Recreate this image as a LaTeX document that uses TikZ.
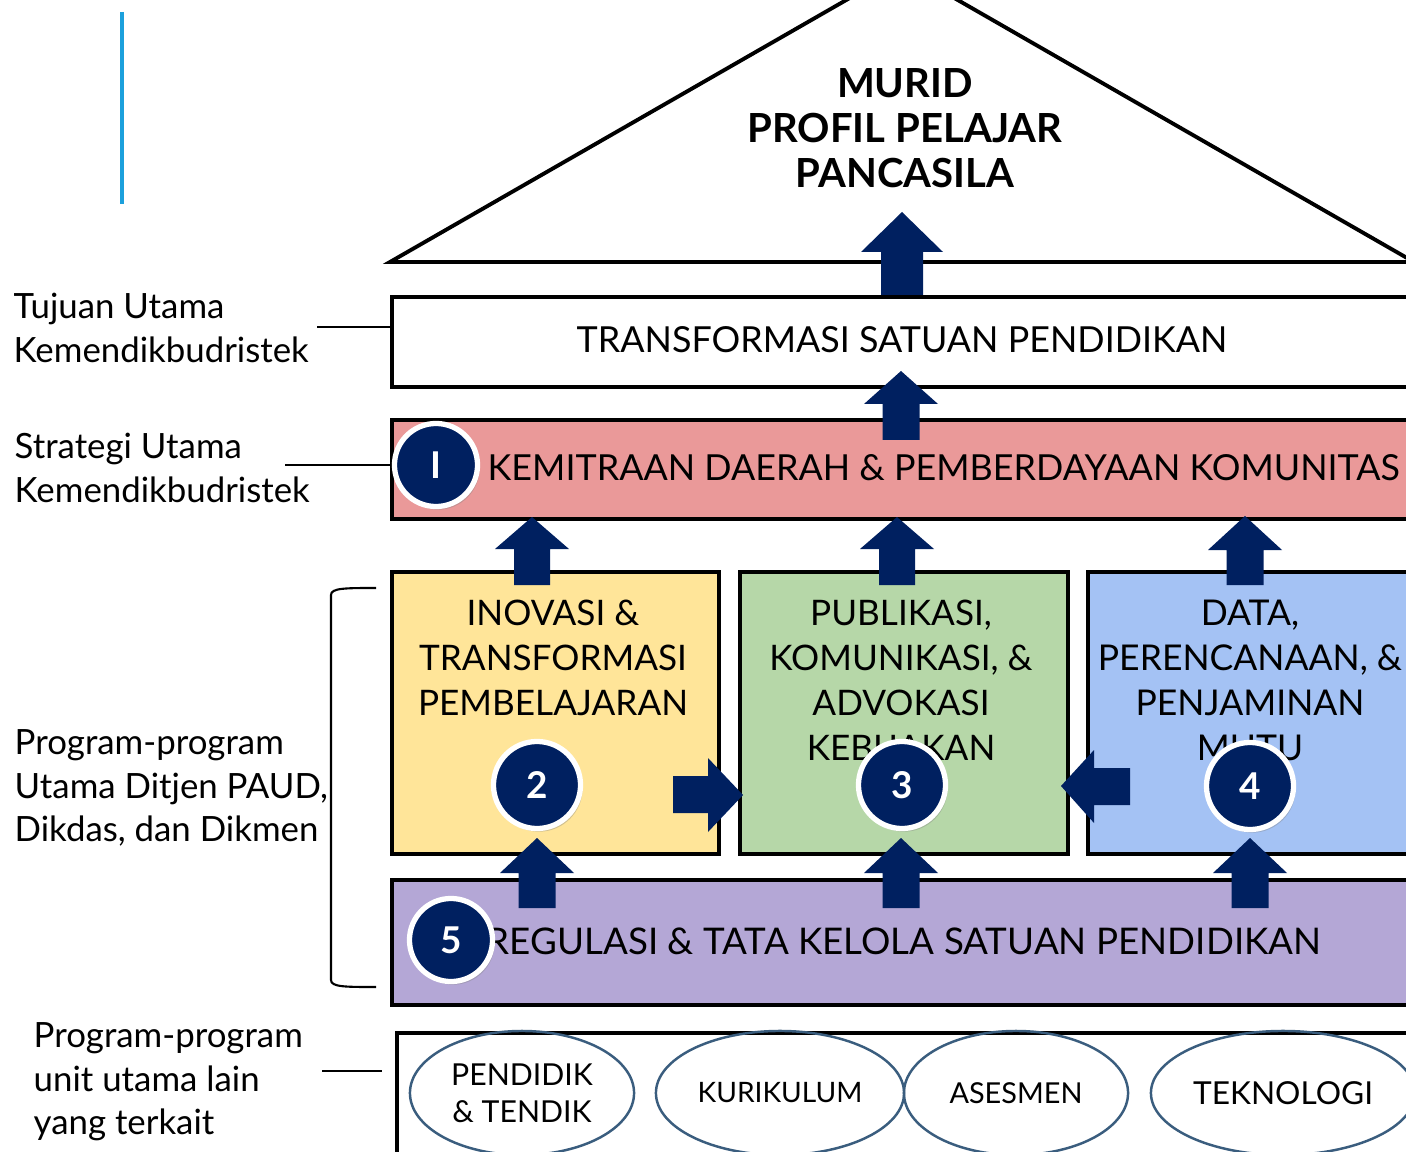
\documentclass[tikz,border=0pt]{standalone}
\usepackage{fontspec}
\setmainfont{Lato}
\usetikzlibrary{shapes.geometric,shadows}
\definecolor{navy}{HTML}{002060}
\definecolor{pinkc}{HTML}{EA9999}
\definecolor{yellowc}{HTML}{FFE599}
\definecolor{greenc}{HTML}{B6D7A8}
\definecolor{bluec}{HTML}{A4C2F4}
\definecolor{purplec}{HTML}{B4A7D6}
\definecolor{ellc}{HTML}{3A5D7E}
\definecolor{cyanc}{HTML}{1CA0DC}
\newcommand{\bup}[6]{\fill[navy] (#1-#6,#4) -- (#1-#6,#3) -- (#1-#5,#3) -- (#1,#2) -- (#1+#5,#3) -- (#1+#6,#3) -- (#1+#6,#4) -- cycle;}
\begin{document}
\begin{tikzpicture}[x=0.01cm,y=-0.01cm,
  boxstyle/.style={draw=black,line width=1pt,inner sep=0pt,anchor=north west},
  boxtext/.style={font=\fontsize{#1}{12.8}\selectfont,align=center,inner sep=0pt},
  boxtext/.default=10.2,
  sidetext/.style={font=\fontsize{9.9}{12.4}\selectfont,align=left,inner sep=0pt,anchor=west},
  sideline/.style={line width=0.5pt},
  numc/.style={circle,fill=navy,draw=white,line width=1.5pt,inner sep=0pt,text=white,font=\fontsize{10.5}{12}\selectfont\bfseries,drop shadow={shadow xshift=0.6pt,shadow yshift=-0.9pt,opacity=0.35}},
  ellnode/.style={ellipse,draw=ellc,line width=0.7pt,inner sep=0pt,align=center,font=\fontsize{#1}{10.6}\selectfont},
  ellnode/.default=8.4]
\useasboundingbox (0,0) rectangle (1406,1152);
\clip (0,0) rectangle (1406,1152);
\fill[white] (0,0) rectangle (1406,1152);

% cyan accent line
\draw[cyanc,line width=0.9pt] (122,12) -- (122,204);

% roof
\draw[line width=1.1pt,line join=miter] (390,262) -- (902,-32) -- (1414,262) -- cycle;
\node[font=\fontsize{11.4}{12.8}\selectfont\bfseries,align=center,inner sep=0pt] (murid) at (905,128) {MURID\\PROFIL PELAJAR\\PANCASILA};

% main boxes
\node[boxstyle,fill=white,minimum width=10.30cm,minimum height=0.90cm] (tsp) at (390,295) {};
\node[boxtext] (tsptext) at (902,340) {TRANSFORMASI SATUAN PENDIDIKAN};

\node[boxstyle,fill=pinkc,minimum width=10.30cm,minimum height=0.99cm] (kem) at (390,418) {};
\node[boxtext=10.2,anchor=west] (kemtext) at (487,468) {KEMITRAAN DAERAH \& PEMBERDAYAAN KOMUNITAS};

\node[boxstyle,fill=yellowc,minimum width=3.27cm,minimum height=2.82cm] (ino) at (390,570) {};
\node[boxtext=10] (inotext) at (553,658) {INOVASI \&\\TRANSFORMASI\\PEMBELAJARAN};

\node[boxstyle,fill=greenc,minimum width=3.28cm,minimum height=2.82cm] (pub) at (738,570) {};
\node[boxtext=10] (pubtext) at (901,680) {PUBLIKASI,\\KOMUNIKASI, \&\\ADVOKASI\\KEBIJAKAN};

\node[boxstyle,fill=bluec,minimum width=3.30cm,minimum height=2.82cm] (dat) at (1086,570) {};
\node[boxtext=10.1] (dattext) at (1250,680) {DATA,\\PERENCANAAN, \&\\PENJAMINAN\\MUTU};

\node[boxstyle,fill=purplec,minimum width=10.30cm,minimum height=1.25cm] (reg) at (390,878) {};
\node[boxtext=10.45] (regtext) at (904,941) {REGULASI \& TATA KELOLA SATUAN PENDIDIKAN};

\node[boxstyle,fill=white,minimum width=10.30cm,minimum height=1.40cm] (unit) at (395,1031) {};

% ellipses
\node[ellnode=8.6,minimum width=2.24cm,minimum height=1.24cm] (e1) at (522,1093) {PENDIDIK\\\& TENDIK};
\node[ellnode=8.0,minimum width=2.48cm,minimum height=1.24cm] (e2) at (780,1093) {KURIKULUM};
\node[ellnode=8.2,minimum width=2.24cm,minimum height=1.24cm] (e3) at (1016,1093) {ASESMEN};
\node[ellnode=9.0,minimum width=2.64cm,minimum height=1.24cm] (e4) at (1283,1093) {TEKNOLOGI};

% block arrows up
\bup{902}{212}{252}{295}{41}{21}
\bup{901}{371}{404}{440}{37}{18.5}
\bup{532}{517}{549}{585}{37}{18}
\bup{897}{517}{549}{585}{37}{18}
\bup{1245}{516}{550}{585}{37}{18.5}
\bup{537}{838}{873}{908}{37}{18.5}
\bup{901}{838}{873}{908}{37}{18.5}
\bup{1250}{838}{873}{908}{37}{18.5}
% right arrow yellow -> green
\fill[navy] (673,776) -- (708,776) -- (708,758) -- (743,795) -- (708,832) -- (708,813) -- (673,813) -- cycle;
% left arrow blue -> green
\fill[navy] (1130,768) -- (1094,768) -- (1094,750) -- (1061,786) -- (1094,823) -- (1094,805) -- (1130,805) -- cycle;

% number circles
\node[numc,minimum size=0.83cm] (n1) at (436,465) {I};
\node[numc,minimum size=0.87cm] (n2) at (537,785) {2};
\node[numc,minimum size=0.87cm] (n3) at (902,785) {3};
\node[numc,minimum size=0.87cm] (n4) at (1250,786) {4};
\node[numc,minimum size=0.83cm] (n5) at (451,940) {5};

% side labels
\node[sidetext] (lab1) at (13,328) {Tujuan Utama\\Kemendikbudristek};
\coordinate (l1a) at (317,327);
\draw[sideline] (l1a) -- (tsp.west |- l1a);
\node[sidetext] (lab2) at (14,468) {Strategi Utama\\Kemendikbudristek};
\coordinate (l2a) at (285,465);
\draw[sideline] (l2a) -- (kem.west |- l2a);
\node[sidetext] (lab3) at (14,788) {Program-program\\Utama Ditjen PAUD,\\Dikdas, dan Dikmen};
\coordinate (b1) at (376,588);
\coordinate (b2) at (376,987);
\draw[line width=0.6pt] (b1) .. controls (345,588) and (331,588) .. (331,595) -- (331,980) .. controls (331,987) and (345,987) .. (b2);
\node[sidetext] (lab4) at (33,1082) {Program-program\\unit utama lain\\yang terkait};
\coordinate (l4a) at (322,1071);
\draw[sideline] (l4a) -- (382,1071);
\end{tikzpicture}
\end{document}
